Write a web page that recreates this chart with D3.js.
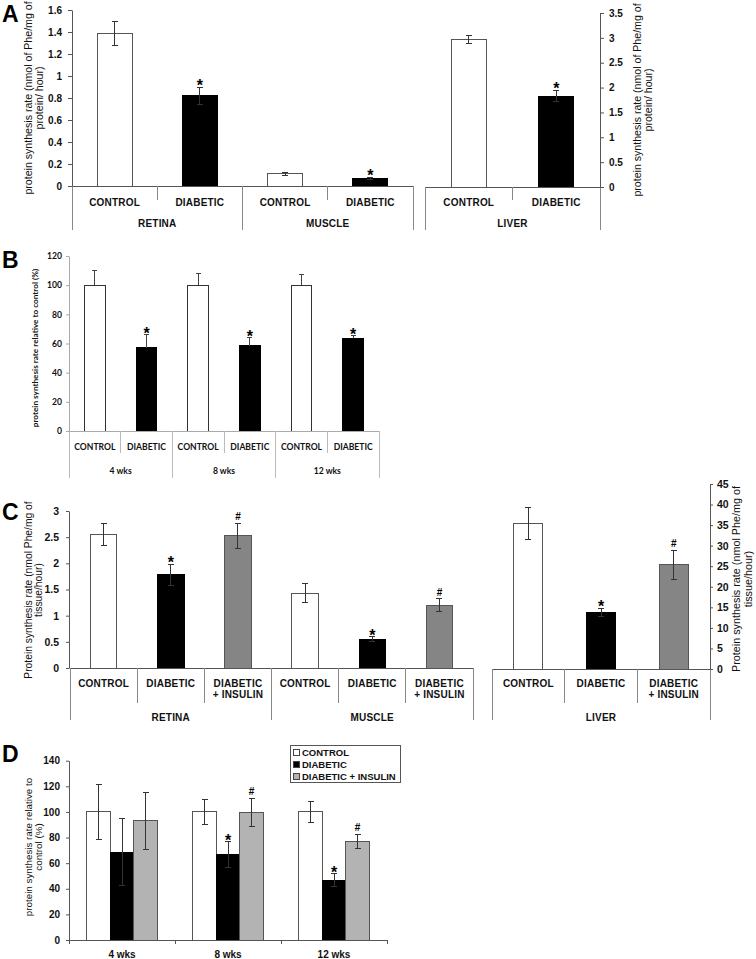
<!DOCTYPE html>
<html><head><meta charset="utf-8">
<script src="https://cdn.jsdelivr.net/npm/d3@7"></script>
<style>body{margin:0;background:#fff}svg{display:block}</style>
</head><body>
<svg id="c" width="756" height="959"></svg>
<script>
// ---------- DATA ----------
// Panel A
const aCategories = ["CONTROL","DIABETIC","CONTROL","DIABETIC"];
const aGroups = ["RETINA","MUSCLE"];
const aValues = [1.39,0.82,0.11,0.07];
const aErrors = [0.11,0.08,0.01,0.01];
const aMarks = ["","*","","*"];
const aTicksLeft = [0,0.2,0.4,0.6,0.8,1,1.2,1.4,1.6];
const aLiverCategories = ["CONTROL","DIABETIC"];
const aLiverGroups = ["LIVER"];
const aLiverValues = [2.97,1.83];
const aLiverErrors = [0.08,0.12];
const aLiverMarks = ["","*"];
const aTicksRight = [0,0.5,1,1.5,2,2.5,3,3.5];
// Panel B
const bCategories = ["CONTROL","DIABETIC","CONTROL","DIABETIC","CONTROL","DIABETIC"];
const bGroups = ["4 wks","8 wks","12 wks"];
const bValues = [100,57,100,58.5,100,63.5];
const bErrors = [10,9,8,5.5,7,1.7];
const bMarks = ["","*","","*","","*"];
const bTicks = [0,20,40,60,80,100,120];
// Panel C
const cCategories = ["CONTROL","DIABETIC","DIABETIC + INSULIN","CONTROL","DIABETIC","DIABETIC + INSULIN"];
const cGroups = ["RETINA","MUSCLE"];
const cValues = [2.55,1.78,2.53,1.43,0.55,1.2];
const cErrors = [0.21,0.2,0.24,0.18,0.05,0.12];
const cMarks = ["","*","#","","*","#"];
const cTicksLeft = [0,0.5,1,1.5,2,2.5,3];
const cLiverCategories = ["CONTROL","DIABETIC","DIABETIC + INSULIN"];
const cLiverGroups = ["LIVER"];
const cLiverValues = [35.4,13.8,25.3];
const cLiverErrors = [4,1,3.6];
const cLiverMarks = ["","*","#"];
const cTicksRight = [0,5,10,15,20,25,30,35,40,45];
// Panel D
const dGroups = ["4 wks","8 wks","12 wks"];
const dSeries = ["CONTROL","DIABETIC","DIABETIC + INSULIN"];
const dControl = [100,100,100];
const dDiabetic = [68.5,66.8,46.8];
const dInsulin = [93,99.5,77];
const dControlErr = [21.5,10,8];
const dDiabeticErr = [26,10,5];
const dInsulinErr = [22,11,5.5];
const dControlMarks = ["","",""];
const dDiabeticMarks = ["","*","*"];
const dInsulinMarks = ["","#","#"];
const dTicks = [0,20,40,60,80,100,120,140];

// ---------- DRAWING ----------
const svg = d3.select("#c");
const ARIAL = "'Liberation Sans', Arial, sans-serif";
const CAL = "Lato, 'Open Sans', sans-serif";
const fillC = d3.scaleOrdinal().domain(dSeries).range(["#ffffff","#000000","#858585"]);
const fillD = d3.scaleOrdinal().domain(dSeries).range(["#ffffff","#000000","#b3b3b3"]);

function yAxis(scale, ticks, x, side, o) {
  const ax = (side === "left" ? d3.axisLeft(scale) : d3.axisRight(scale))
    .tickValues(ticks).tickFormat(d => String(d)).tickSize(o.ts).tickPadding(o.tp).tickSizeOuter(0);
  const g = svg.append("g").attr("transform", `translate(${x},0)`).call(ax);
  g.select(".domain").attr("stroke", o.color);
  g.selectAll(".tick line").attr("stroke", o.color);
  g.selectAll("text").attr("font-family", o.font).attr("font-size", o.fs).attr("font-weight", "bold").attr("fill", "#111");
  return g;
}

function markText(g, x, yTop, m, o) {
  if (!m) return;
  g.append("text").attr("x", x).attr("y", m === "*" ? yTop + o.starDy : yTop + o.hashDy)
    .attr("text-anchor", "middle").attr("font-family", o.markFont || ARIAL).attr("font-weight", "bold")
    .attr("font-size", m === "*" ? o.starFs : o.hashFs).attr("fill", "#000").text(m);
}

function errBar(g, x, yTop, yBot, cap, color) {
  g.append("line").attr("x1", x).attr("x2", x).attr("y1", yTop).attr("y2", yBot).attr("stroke", color);
  g.append("line").attr("x1", x - cap/2).attr("x2", x + cap/2).attr("y1", yTop).attr("y2", yTop).attr("stroke", color);
  g.append("line").attr("x1", x - cap/2).attr("x2", x + cap/2).attr("y1", yBot).attr("y2", yBot).attr("stroke", color);
}

function panel(o) {
  const g = svg.append("g").attr("shape-rendering", "crispEdges");
  const n = o.cats.length;
  const x = d3.scaleBand().domain(d3.range(n)).range([o.x0, o.x1]);
  const cx = i => x(i) + x.bandwidth() / 2;
  const y = o.y, y0 = y(0);
  // bars
  g.selectAll(null).data(o.vals).join("rect")
    .attr("x", (d, i) => cx(i) - o.barW / 2).attr("y", d => y(d))
    .attr("width", o.barW).attr("height", d => y0 - y(d))
    .attr("fill", (d, i) => o.fill(o.cats[i]))
    .attr("stroke", (d, i) => o.cats[i] === "DIABETIC" ? "#000" : o.barStroke);
  // error bars
  o.vals.forEach((v, i) => {
    const top = y(v + o.errs[i]);
    const bot = o.errUp ? y(v) : y(v - o.errs[i]);
    const gg = g.append("g");
    gg.append("line").attr("x1", cx(i)).attr("x2", cx(i)).attr("y1", top).attr("y2", bot).attr("stroke", o.errColor);
    gg.append("line").attr("x1", cx(i) - o.cap/2).attr("x2", cx(i) + o.cap/2).attr("y1", top).attr("y2", top).attr("stroke", o.errColor);
    if (!o.errUp) gg.append("line").attr("x1", cx(i) - o.cap/2).attr("x2", cx(i) + o.cap/2).attr("y1", bot).attr("y2", bot).attr("stroke", o.errColor);
    markText(svg, cx(i), top, o.marks[i], o);
  });
  // baseline
  g.append("line").attr("x1", o.x0).attr("x2", o.x1).attr("y1", y0).attr("y2", y0).attr("stroke", o.axisColor);
  // separators
  const per = n / o.groups.length;
  for (let i = 0; i <= n; i++) {
    const xx = i === n ? o.x1 : x(i);
    const isLong = i % per === 0;
    g.append("line").attr("x1", xx).attr("x2", xx).attr("y1", y0).attr("y2", isLong ? o.longY : o.shortY).attr("stroke", o.sepColor);
  }
  // category labels
  o.cats.forEach((c, i) => {
    const parts = c === "DIABETIC + INSULIN" ? ["DIABETIC", "+ INSULIN"] : [c];
    parts.forEach((p, k) => {
      svg.append("text").attr("x", cx(i)).attr("y", o.catY + k * o.catLine).attr("text-anchor", "middle")
        .attr("font-family", o.font).attr("font-weight", "bold").attr("font-size", o.catFs)
        .attr("letter-spacing", o.ls || 0).attr("fill", "#111").text(p);
    });
  });
  // group labels
  o.groups.forEach((gname, k) => {
    const xa = x(k * per), xb = (k + 1) * per === n ? o.x1 : x((k + 1) * per);
    svg.append("text").attr("x", (xa + xb) / 2).attr("y", o.grpY).attr("text-anchor", "middle")
      .attr("font-family", o.font).attr("font-weight", "bold").attr("font-size", o.catFs)
      .attr("letter-spacing", o.ls || 0).attr("fill", "#111").text(gname);
  });
}

function rotLabel(lines, x, dx, yc, fs, font, weight) {
  lines.forEach((t, k) => {
    svg.append("text").attr("transform", `translate(${x + k * dx},${yc}) rotate(-90)`)
      .attr("text-anchor", "middle").attr("dominant-baseline", "middle")
      .attr("font-family", font).attr("font-size", fs).attr("font-weight", weight || "normal")
      .attr("fill", "#111").text(t);
  });
}

function panelLetter(t, y) {
  svg.append("text").attr("x", 2).attr("y", y).attr("font-family", ARIAL).attr("font-weight", "bold")
    .attr("font-size", 23).attr("fill", "#000").text(t);
}

const common = {starDy: 4, hashDy: -3, starFs: 16, hashFs: 10};

// ===== Panel A =====
panelLetter("A", 22);
const aY = d3.scaleLinear().domain([0, 1.6]).range([186, 10]);
panel(Object.assign({}, common, {
  cats: aCategories, groups: aGroups, vals: aValues, errs: aErrors, marks: aMarks,
  x0: 72, x1: 413, y: aY, barW: 35, fill: fillC, barStroke: "#555", errColor: "#333", cap: 6,
  axisColor: "#555", sepColor: "#888", shortY: 200, longY: 230,
  catY: 205.5, catLine: 11, grpY: 226.5, catFs: 10, font: ARIAL, ls: 0.2
}));
yAxis(aY, aTicksLeft, 72, "left", {ts: 4, tp: 6, color: "#555", font: ARIAL, fs: 10});
const aYR = d3.scaleLinear().domain([0, 3.5]).range([187, 13]);
panel(Object.assign({}, common, {
  cats: aLiverCategories, groups: aLiverGroups, vals: aLiverValues, errs: aLiverErrors, marks: aLiverMarks,
  x0: 425, x1: 600, y: aYR, barW: 35, fill: fillC, barStroke: "#555", errColor: "#333", cap: 6,
  axisColor: "#555", sepColor: "#888", shortY: 200, longY: 230,
  catY: 205.5, catLine: 11, grpY: 226.5, catFs: 10, font: ARIAL, ls: 0.2
}));
yAxis(aYR, aTicksRight, 600, "right", {ts: 4, tp: 5, color: "#555", font: ARIAL, fs: 10});
rotLabel(["protein synthesis rate (nmol of Phe/mg of", "protein/ hour)"], 29, 11.5, 98, 10.6, ARIAL);
rotLabel(["protein synthesis rate (nmol of Phe/mg of", "protein/ hour)"], 638, 11, 100, 10.6, ARIAL);

// ===== Panel B =====
panelLetter("B", 268);
const bY = d3.scaleLinear().domain([0, 120]).range([431, 256]);
panel(Object.assign({}, common, {
  cats: bCategories, groups: bGroups, vals: bValues, errs: bErrors, marks: bMarks,
  x0: 69, x1: 379, y: bY, barW: 20.5, fill: fillC, barStroke: "#333", errColor: "#444", cap: 5, errUp: true,
  axisColor: "#aaa", sepColor: "#bbb", shortY: 453, longY: 478,
  catY: 450, catLine: 11, grpY: 473.5, catFs: 8.6, font: CAL, markFont: ARIAL
}));
yAxis(bY, bTicks, 69, "left", {ts: 3, tp: 4, color: "#aaa", font: CAL, fs: 8.6});
rotLabel(["protein synthesis rate relative to control (%)"], 36, 0, 348, 8.2, CAL, "bold");

// ===== Panel C =====
panelLetter("C", 520);
const cY = d3.scaleLinear().domain([0, 3]).range([668, 511]);
panel(Object.assign({}, common, {
  cats: cCategories, groups: cGroups, vals: cValues, errs: cErrors, marks: cMarks,
  x0: 70, x1: 473, y: cY, barW: 26.5, fill: fillC, barStroke: "#555", errColor: "#333", cap: 6,
  axisColor: "#555", sepColor: "#888", shortY: 703, longY: 720,
  catY: 687, catLine: 11, grpY: 721, catFs: 10, font: ARIAL, ls: 0.2
}));
yAxis(cY, cTicksLeft, 69, "left", {ts: 3, tp: 7, color: "#555", font: ARIAL, fs: 10.5});
const cYR = d3.scaleLinear().domain([0, 45]).range([669, 484]);
panel(Object.assign({}, common, {
  cats: cLiverCategories, groups: cLiverGroups, vals: cLiverValues, errs: cLiverErrors, marks: cLiverMarks,
  x0: 492, x1: 710, y: cYR, barW: 29, fill: fillC, barStroke: "#555", errColor: "#333", cap: 6,
  axisColor: "#555", sepColor: "#888", shortY: 703, longY: 720,
  catY: 687, catLine: 11, grpY: 721, catFs: 10, font: ARIAL, ls: 0.2
}));
yAxis(cYR, cTicksRight, 710, "right", {ts: 3, tp: 4, color: "#555", font: ARIAL, fs: 10.5});
rotLabel(["Protein synthesis rate (nmol Phe/mg of", "tissue/hour)"], 29, 10.5, 590, 10.3, ARIAL);
rotLabel(["Protein synthesis rate (nmol Phe/mg of", "tissue/hour)"], 737, 12, 579, 10.8, ARIAL);

// ===== Panel D =====
panelLetter("D", 762);
const dY = d3.scaleLinear().domain([0, 140]).range([940, 760.7]);
const dX0 = d3.scaleBand().domain(dGroups).range([69, 387]);
const dX1 = d3.scaleBand().domain(dSeries).range([-35.25, 35.25]);
const dSets = [
  {s: "CONTROL", v: dControl, e: dControlErr, m: dControlMarks},
  {s: "DIABETIC", v: dDiabetic, e: dDiabeticErr, m: dDiabeticMarks},
  {s: "DIABETIC + INSULIN", v: dInsulin, e: dInsulinErr, m: dInsulinMarks}
];
const dg = svg.append("g").attr("shape-rendering", "crispEdges");
dSets.forEach(set => {
  dg.selectAll(null).data(set.v).join("rect")
    .attr("x", (d, i) => dX0(dGroups[i]) + dX0.bandwidth() / 2 + dX1(set.s))
    .attr("y", d => dY(d)).attr("width", dX1.bandwidth()).attr("height", d => dY(0) - dY(d))
    .attr("fill", fillD(set.s)).attr("stroke", set.s === "DIABETIC" ? "#000" : "#555");
});
dSets.forEach(set => {
  set.v.forEach((v, i) => {
    const cx = dX0(dGroups[i]) + dX0.bandwidth() / 2 + dX1(set.s) + dX1.bandwidth() / 2;
    errBar(dg, cx, dY(v + set.e[i]), dY(v - set.e[i]), 6, "#333");
    markText(svg, cx, dY(v + set.e[i]), set.m[i], common);
  });
});
dg.append("line").attr("x1", 69).attr("x2", 387).attr("y1", dY(0)).attr("y2", dY(0)).attr("stroke", "#555");
d3.range(dGroups.length + 1).forEach(k => {
  const xv = dX0.range()[0] + k * dX0.step();
  dg.append("line").attr("x1", xv).attr("x2", xv).attr("y1", dY(0)).attr("y2", dY(0) + 4).attr("stroke", "#555");
});
dGroups.forEach(gname => {
  svg.append("text").attr("x", dX0(gname) + dX0.bandwidth() / 2).attr("y", 958).attr("text-anchor", "middle")
    .attr("font-family", ARIAL).attr("font-weight", "bold").attr("font-size", 10).attr("fill", "#111").text(gname);
});
yAxis(dY, dTicks, 69, "left", {ts: 3, tp: 6, color: "#555", font: ARIAL, fs: 10});
rotLabel(["protein synthesis rate relative to", "control (%)"], 29, 10, 847, 9.8, ARIAL);

// legend
const lg = svg.append("g").attr("transform", "translate(290,745)");
lg.append("rect").attr("x", 0.5).attr("y", 0.5).attr("width", 110).attr("height", 37).attr("fill", "#fff").attr("stroke", "#555");
dSeries.forEach((s, k) => {
  lg.append("rect").attr("x", 3.5).attr("y", 4.5 + k * 12).attr("width", 6).attr("height", 6)
    .attr("fill", fillD(s)).attr("stroke", "#444");
  lg.append("text").attr("x", 12).attr("y", 11 + k * 12).attr("font-family", ARIAL).attr("font-weight", "bold")
    .attr("font-size", 9.5).attr("fill", "#111").text(s);
});
</script>
</body></html>
